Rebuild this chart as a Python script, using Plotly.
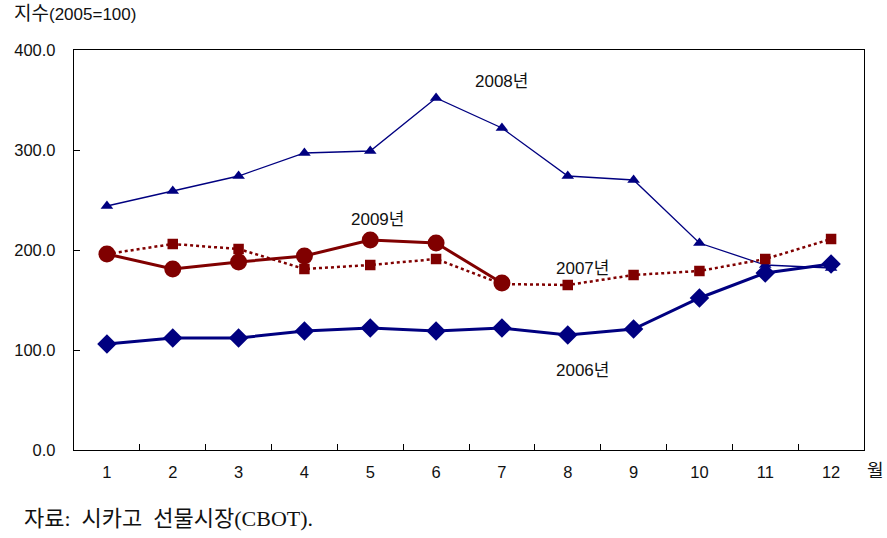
import plotly.graph_objects as go

months = ["1", "2", "3", "4", "5", "6", "7", "8", "9", "10", "11", "12"]
y2006 = [106, 112, 112, 119, 122, 119, 122, 115, 121, 152, 177, 186]
y2007 = [196, 206, 201, 181, 185, 191, 166, 165, 175, 179, 191, 211]
y2008 = [244, 259, 274, 297, 299, 352, 322, 274, 270, 207, 185, 182]
y2009 = [196, 181, 188, 194, 210, 207, 167]
months2009 = months[:7]
yticks = [0, 100, 200, 300, 400]
ytick_labels = ["0.0", "100.0", "200.0", "300.0", "400.0"]

NAVY = "#000080"
DRED = "#800000"
font_sans = "Liberation Sans, Noto Sans CJK KR, sans-serif"
TXT = "#111111"

fig = go.Figure()
fig.add_trace(go.Scatter(x=months, y=y2006, mode="lines+markers", name="2006년",
                         line=dict(color=NAVY, width=3),
                         marker=dict(symbol="diamond", size=15, color=NAVY)))
fig.add_trace(go.Scatter(x=months, y=y2008, mode="lines+markers", name="2008년",
                         line=dict(color=NAVY, width=1.3),
                         marker=dict(symbol="triangle-up", size=11, color=NAVY)))
fig.add_trace(go.Scatter(x=months, y=y2007, mode="lines+markers", name="2007년",
                         line=dict(color=DRED, width=2.5, dash="dot"),
                         marker=dict(symbol="square", size=10.5, color=DRED)))
fig.add_trace(go.Scatter(x=months2009, y=y2009, mode="lines+markers", name="2009년",
                         line=dict(color=DRED, width=3),
                         marker=dict(symbol="circle", size=17, color=DRED)))

# x given as category index (0-based) for annotations on a category axis
series_labels = [
    dict(x=months.index("7"), y=369, text="2008년", xshift=0),
    dict(x=months.index("5"), y=231, text="2009년", xshift=7),
    dict(x=months.index("8"), y=182, text="2007년", xshift=15),
    dict(x=months.index("8"), y=80, text="2006년", xshift=15),
]
annotations = []
for a in series_labels:
    a.update(showarrow=False, xanchor="center", yanchor="middle",
             font=dict(family=font_sans, size=17, color=TXT))
    annotations.append(a)

annotations += [
    dict(xref="paper", yref="paper", x=0, y=1, xanchor="left", yanchor="middle",
         xshift=-62, yshift=37,
         text="지수<span style='font-size:17px'>(2005=100)</span>", showarrow=False,
         font=dict(family=font_sans, size=19, color=TXT)),
    dict(xref="paper", yref="paper", x=1, y=0, xanchor="center", yanchor="middle",
         xshift=11, yshift=-21,
         text="월", showarrow=False,
         font=dict(family=font_sans, size=18, color=TXT)),
    dict(xref="paper", yref="paper", x=0, y=0, xanchor="left", yanchor="middle",
         xshift=-52, yshift=-68,
         text="자료:&nbsp;&nbsp;시카고&nbsp;&nbsp;선물시장(CBOT).", showarrow=False,
         font=dict(family="Liberation Serif, Noto Sans CJK KR, serif", size=22, color=TXT)),
]

fig.update_layout(
    width=887, height=538,
    margin=dict(l=74, r=23, t=50, b=88),
    paper_bgcolor="white", plot_bgcolor="white",
    showlegend=False,
    font=dict(family=font_sans, size=16, color=TXT),
    annotations=annotations,
)
fig.update_xaxes(
    type="category", categoryorder="array", categoryarray=months,
    range=[-0.5, 11.5],
    showline=True, linecolor="black", linewidth=1.3, mirror=True,
    ticks="inside", ticklen=6, tickcolor="black", tickson="boundaries",
    showgrid=False, zeroline=False,
    tickfont=dict(family=font_sans, size=16.5, color=TXT),
    ticklabelstandoff=7,
)
fig.update_yaxes(
    range=[0, 400],
    tickvals=yticks, ticktext=ytick_labels,
    showline=True, linecolor="black", linewidth=1.3, mirror=True,
    ticks="inside", ticklen=6, tickcolor="black",
    showgrid=False, zeroline=False,
    tickfont=dict(family=font_sans, size=16.5, color=TXT),
    ticklabelstandoff=14,
)
fig.write_html("out.html", config={"displayModeBar": False},
               post_script="document.body.style.margin='0';")
